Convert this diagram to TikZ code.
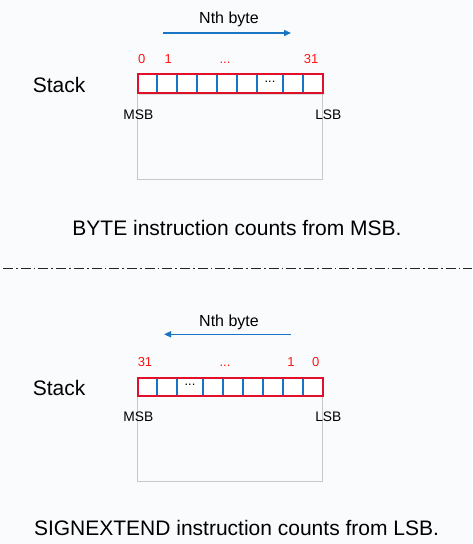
\documentclass[tikz,border=0pt]{standalone}
\usepackage{fontspec}
\setmainfont{Liberation Sans}
\usetikzlibrary{arrows.meta,shadows}
\definecolor{bg}{RGB}{250,251,253}
\definecolor{cellred}{RGB}{224,16,44}
\definecolor{cellblue}{RGB}{26,116,196}
\definecolor{boxgrey}{RGB}{200,200,200}
\definecolor{labred}{RGB}{255,20,20}
\tikzset{
  lab/.style={anchor=base, inner sep=0pt, font=\fontsize{13}{15}\selectfont, text=labred},
  edge/.style={anchor=base, inner sep=0pt, font=\fontsize{13.8}{16}\selectfont},
  big/.style={anchor=base, inner sep=0pt, font=\fontsize{21}{25}\selectfont},
  nth/.style={anchor=base, inner sep=0pt, font=\fontsize{16}{19}\selectfont},
  celldots/.style={inner sep=0pt, font=\fontsize{13}{15}\selectfont},
  dir/.style={draw=cellblue, line width=1.5pt, -{Triangle[length=7pt,width=6pt]}},
  divider/.style={draw=cellblue, line width=2pt},
  rowbox/.style={draw=cellred, line width=2pt, fill=white, drop shadow={opacity=0.25, shadow xshift=1pt, shadow yshift=-1.2pt}},
  stackbox/.style={draw=boxgrey, line width=1pt},
}
\begin{document}
\begin{tikzpicture}[x=1pt,y=-1pt]
\fill[bg] (0,0) rectangle (472,544);
\useasboundingbox (0,0) rectangle (472,544);

% ---------- top ----------
\node[nth] (nthA) at (229,23.5) {Nth byte};
\coordinate (aS) at (163,33);
\coordinate (aE) at (291,33);
\draw[dir] (aS) -- (aE);
\node[lab] (a0) at (141.7,63.3) {0};
\node[lab] (a1) at (168.3,63.3) {1};
\node[lab] (adots) at (225,63.3) {...};
\node[lab] (a31) at (311,63.3) {31};
\node[big, anchor=base west] (stackA) at (32.7,92) {Stack};
\draw[stackbox] (137.7,74.3) rectangle (322.7,179);
\draw[rowbox] (137.7,74.3) rectangle (322.7,93.3);
\foreach \x in {156.7,176.7,196.7,216.7,236.7,256.7,283.3,303.3}
  \draw[divider] (\x,75.3) -- (\x,92.3);
\node[celldots] (rdotsA) at (270,82) {...};
\node[edge] (msbA) at (138.3,119) {MSB};
\node[edge] (lsbA) at (328.3,119) {LSB};
\node[big] (textA) at (237,235) {BYTE instruction counts from MSB.};

% ---------- separator ----------
\coordinate (sepL) at (3,268.3);
\coordinate (sepR) at (472,268.3);
\draw[line width=1pt, black!85, dash pattern=on 10pt off 3pt on 1.7pt off 3pt] (sepL) -- (sepR);

% ---------- bottom ----------
\node[nth] (nthB) at (229,326) {Nth byte};
\coordinate (bS) at (291,334.3);
\coordinate (bE) at (164,334.3);
\draw[dir] (bS) -- (bE);
\node[lab] (b31) at (145,366) {31};
\node[lab] (bdots) at (225,366) {...};
\node[lab] (b1) at (291,366) {1};
\node[lab] (b0) at (315.7,366) {0};
\node[big, anchor=base west] (stackB) at (32.7,395) {Stack};
\draw[stackbox] (137.7,377.7) rectangle (322.7,481);
\draw[rowbox] (137.7,377.7) rectangle (322.7,395.7);
\foreach \x in {156.7,176.7,203.3,223.3,243.3,263.3,283.3,303.3}
  \draw[divider] (\x,378.7) -- (\x,394.7);
\node[celldots] (rdotsB) at (190,385) {...};
\node[edge] (msbB) at (138.3,421.7) {MSB};
\node[edge] (lsbB) at (328.3,421.7) {LSB};
\node[big] (textB) at (236.5,535) {SIGNEXTEND instruction counts from LSB.};
\end{tikzpicture}
\end{document}
